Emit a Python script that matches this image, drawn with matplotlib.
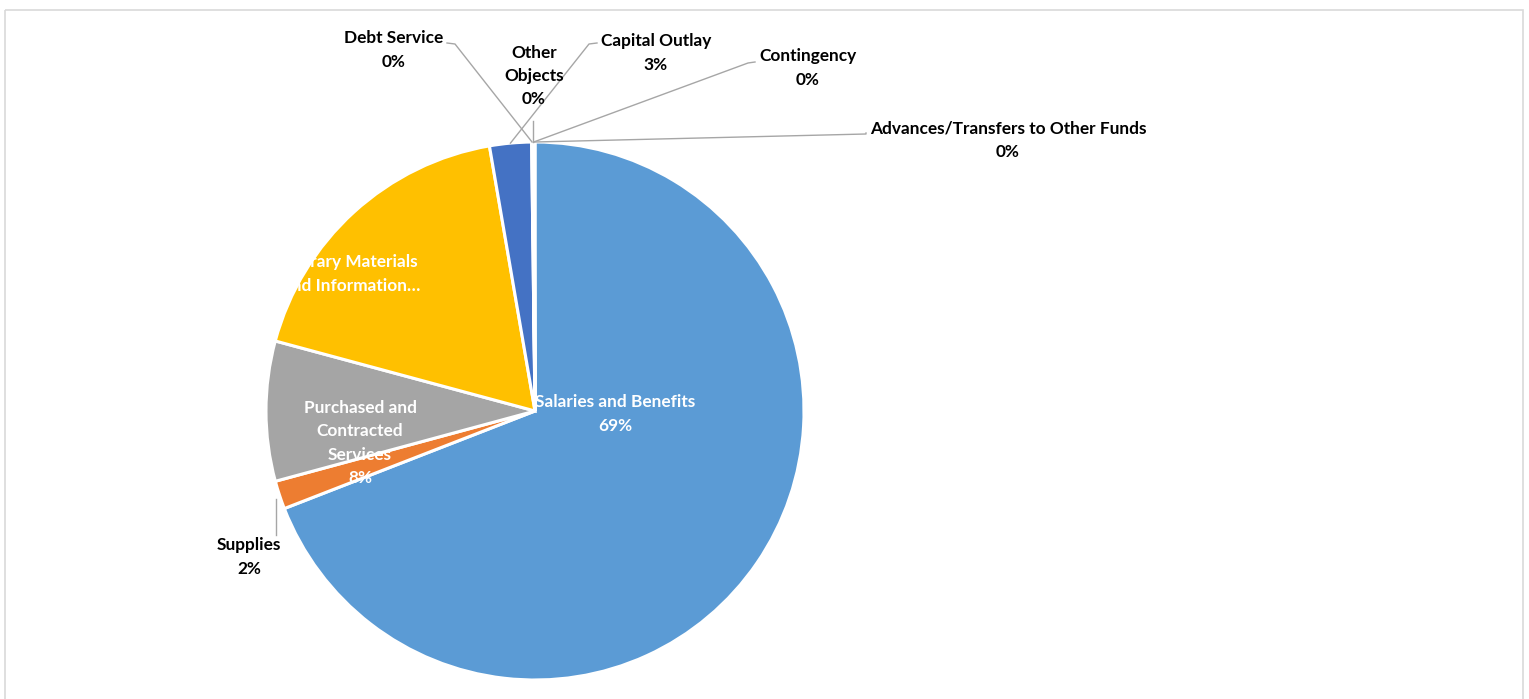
import numpy as np
import matplotlib
matplotlib.use("Agg")
import matplotlib.pyplot as plt
from matplotlib.patches import Rectangle

categories = ["Salaries and Benefits", "Supplies", "Purchased and\nContracted\nServices",
              "Library Materials\nand Information…", "Capital Outlay", "Debt Service",
              "Other\nObjects", "Contingency", "Advances/Transfers to Other Funds"]
values = [69.1, 1.7, 8.4, 18.1, 2.51, 0.05, 0.05, 0.05, 0.05]
colors = ["#5B9BD5", "#ED7D31", "#A5A5A5", "#FFC000", "#4472C4",
          "#70AD47", "#264478", "#9E480E", "#636363"]

W, H = 1529, 699
fig = plt.figure(figsize=(W / 100, H / 100), dpi=100)
fig.patch.set_facecolor("white")
ax = fig.add_axes([0, 0, 1, 1])
ax.set_xlim(0, W)
ax.set_ylim(H, 0)
ax.set_aspect("equal")
ax.axis("off")

# chart frame
ax.add_patch(Rectangle((5, 10), 1518, 700, fill=False, edgecolor="#D9D9D9", lw=1.2, clip_on=False))

cx, cy, R = 535, 411, 269
wedges, _ = ax.pie(values, colors=colors, startangle=-90, counterclock=True,
                   center=(cx, cy), radius=R, frame=True,
                   wedgeprops=dict(edgecolor="white", linewidth=2.2))
ax.set_xlim(0, W)
ax.set_ylim(H, 0)
ax.axis("off")

total = sum(values)
pcts = [f"{round(v / total * 100):.0f}%" for v in values]

FONT = dict(family=["Lato", "DejaVu Sans"], fontweight="bold", fontsize=12.4)
LS = 1.55

def edge_point(i, frac=1.0):
    w = wedges[i]
    th = np.deg2rad((w.theta1 + w.theta2) / 2)
    return cx + R * frac * np.cos(th), cy + R * frac * np.sin(th)

# inside labels (white)
inside = {0: (615, 414, True), 2: (360, 443, True), 3: (352, 274, False)}
for i, (x, y, show_pct) in inside.items():
    txt = categories[i] + ("\n" + pcts[i] if show_pct else "")
    ax.text(x, y, txt, color="white", ha="center", va="center", linespacing=LS, **FONT)

gray = "#A6A6A6"
outside = {
    1: (249, 557, None),
    5: (394, 50, (447, 43)),
    6: (534, 76, None),
    4: (656, 53, (597, 43)),
    7: (808, 68, (755, 62)),
    8: (1008, 140, (866, 133)),
}
for i, (x, y, start) in outside.items():
    ax.text(x, y, categories[i] + "\n" + pcts[i], color="black", ha="center", va="center",
            linespacing=LS, **FONT)

# leader lines
px, py = edge_point(1)
ax.plot([px - 3, px - 3], [py + 4, py + 40], color=gray, lw=1)
for i, off in [(5, 8), (4, -8), (7, -7), (8, 0)]:
    sx, sy = outside[i][2]
    ex, ey = edge_point(i)
    kx = sx + off
    ax.plot([sx, kx, ex], [sy, sy + 1, ey], color=gray, lw=1)
ex, ey = edge_point(6)
ax.plot([ex, ex], [ey, ey - 21], color=gray, lw=1)

fig.savefig("out.png", dpi=100, facecolor="white")
